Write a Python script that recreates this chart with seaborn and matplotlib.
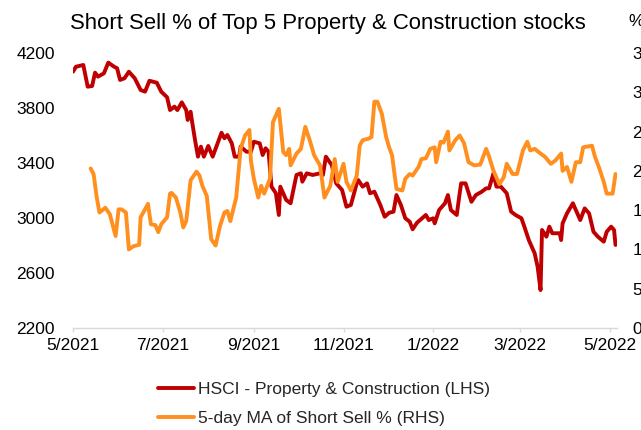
import pandas as pd
import matplotlib.pyplot as plt
import seaborn as sns

# ==================================================
# STYLE
# ==================================================

sns.set_theme(style="white")
plt.rcParams["font.family"] = ["Liberation Sans", "DejaVu Sans"]

RED = "#C00000"
ORANGE = "#FF8F1F"
GREY = "#D9D9D9"

# ==================================================
# DATA
# ==================================================

hsci_dates = [
    "2021-05-01", "2021-05-03", "2021-05-08", "2021-05-11", "2021-05-14", "2021-05-16",
    "2021-05-18", "2021-05-22", "2021-05-25", "2021-05-29", "2021-05-31", "2021-06-02",
    "2021-06-05", "2021-06-08", "2021-06-12", "2021-06-16", "2021-06-19", "2021-06-22",
    "2021-06-27", "2021-06-30", "2021-07-04", "2021-07-06", "2021-07-09", "2021-07-11",
    "2021-07-14", "2021-07-17", "2021-07-18", "2021-07-20", "2021-07-21", "2021-07-23",
    "2021-07-25", "2021-07-27", "2021-07-29", "2021-08-01", "2021-08-04", "2021-08-10",
    "2021-08-12", "2021-08-14", "2021-08-17", "2021-08-19", "2021-08-22", "2021-08-23",
    "2021-08-27", "2021-08-30", "2021-09-01", "2021-09-05", "2021-09-07", "2021-09-09",
    "2021-09-11", "2021-09-13", "2021-09-16", "2021-09-18", "2021-09-19", "2021-09-23",
    "2021-09-26", "2021-09-30", "2021-10-03", "2021-10-04", "2021-10-07", "2021-10-11",
    "2021-10-16", "2021-10-18", "2021-10-20", "2021-10-24", "2021-10-27", "2021-10-31",
    "2021-11-03", "2021-11-06", "2021-11-10", "2021-11-11", "2021-11-14", "2021-11-17",
    "2021-11-19", "2021-11-22", "2021-11-26", "2021-11-29", "2021-12-02", "2021-12-05",
    "2021-12-07", "2021-12-10", "2021-12-13", "2021-12-16", "2021-12-18", "2021-12-21",
    "2021-12-27", "2021-12-29", "2022-01-01", "2022-01-02", "2022-01-05", "2022-01-09",
    "2022-01-11", "2022-01-13", "2022-01-17", "2022-01-19", "2022-01-20", "2022-01-23",
    "2022-01-27", "2022-01-30", "2022-02-03", "2022-02-06", "2022-02-08", "2022-02-11",
    "2022-02-13", "2022-02-16", "2022-02-20", "2022-02-23", "2022-02-26", "2022-03-02",
    "2022-03-04", "2022-03-07", "2022-03-11", "2022-03-13", "2022-03-15", "2022-03-16",
    "2022-03-19", "2022-03-21", "2022-03-23", "2022-03-28", "2022-03-29", "2022-03-30",
    "2022-04-02", "2022-04-06", "2022-04-08", "2022-04-11", "2022-04-14", "2022-04-17",
    "2022-04-20", "2022-04-23", "2022-04-27", "2022-04-29", "2022-05-02", "2022-05-04",
    "2022-05-05",
]
hsci_values = [
    4064, 4100, 4113, 3955, 3960, 4057,
    4028, 4052, 4130, 4100, 4089, 4004,
    4016, 4064, 4016, 3931, 3919, 3998,
    3984, 3919, 3878, 3785, 3810, 3785,
    3841, 3785, 3713, 3773, 3700, 3567,
    3446, 3519, 3446, 3524, 3446, 3620,
    3580, 3604, 3543, 3446, 3446, 3519,
    3482, 3482, 3555, 3543, 3458, 3507,
    3482, 3228, 3180, 3022, 3228, 3131,
    3107, 3313, 3325, 3264, 3325, 3313,
    3325, 3313, 3446, 3385, 3252, 3204,
    3082, 3095, 3252, 3276, 3228, 3252,
    3180, 3191, 3095, 3009, 3038, 3046,
    3167, 3095, 2998, 2973, 2918, 2966,
    3022, 2985, 2998, 2961, 3058, 3107,
    3167, 3058, 3022, 3180, 3252, 3252,
    3118, 3167, 3191, 3216, 3216, 3325,
    3228, 3228, 3180, 3046, 3022, 2998,
    2937, 2840, 2743, 2646, 2476, 2913,
    2864, 2937, 2889, 2889, 2840, 2961,
    3034, 3107, 3058, 2985, 3070, 3034,
    2900, 2864, 2828, 2900, 2937, 2913,
    2804,
]

ma_dates = [
    "2021-05-13", "2021-05-15", "2021-05-17", "2021-05-19", "2021-05-23", "2021-05-26",
    "2021-05-30", "2021-06-01", "2021-06-03", "2021-06-06", "2021-06-08", "2021-06-11",
    "2021-06-15", "2021-06-16", "2021-06-19", "2021-06-21", "2021-06-23", "2021-06-26",
    "2021-06-28", "2021-06-30", "2021-07-04", "2021-07-06", "2021-07-07", "2021-07-10",
    "2021-07-13", "2021-07-15", "2021-07-17", "2021-07-20", "2021-07-24", "2021-07-26",
    "2021-07-28", "2021-07-31", "2021-08-03", "2021-08-06", "2021-08-09", "2021-08-12",
    "2021-08-14", "2021-08-16", "2021-08-20", "2021-08-23", "2021-08-26", "2021-08-29",
    "2021-08-30", "2021-09-01", "2021-09-04", "2021-09-06", "2021-09-08", "2021-09-12",
    "2021-09-14", "2021-09-18", "2021-09-21", "2021-09-23", "2021-09-25", "2021-09-26",
    "2021-09-30", "2021-10-03", "2021-10-06", "2021-10-09", "2021-10-12", "2021-10-16",
    "2021-10-19", "2021-10-23", "2021-10-26", "2021-10-28", "2021-11-01", "2021-11-03",
    "2021-11-06", "2021-11-10", "2021-11-12", "2021-11-14", "2021-11-18", "2021-11-20",
    "2021-11-22", "2021-11-24", "2021-11-27", "2021-11-30", "2021-12-02", "2021-12-04",
    "2021-12-07", "2021-12-11", "2021-12-13", "2021-12-16", "2021-12-18", "2021-12-22",
    "2021-12-24", "2021-12-27", "2021-12-30", "2022-01-02", "2022-01-03", "2022-01-06",
    "2022-01-08", "2022-01-11", "2022-01-12", "2022-01-16", "2022-01-19", "2022-01-22",
    "2022-01-25", "2022-01-29", "2022-02-02", "2022-02-06", "2022-02-08", "2022-02-11",
    "2022-02-15", "2022-02-18", "2022-02-20", "2022-02-24", "2022-02-27", "2022-03-03",
    "2022-03-06", "2022-03-08", "2022-03-11", "2022-03-15", "2022-03-18", "2022-03-22",
    "2022-03-25", "2022-03-29", "2022-03-30", "2022-04-02", "2022-04-05", "2022-04-08",
    "2022-04-11", "2022-04-13", "2022-04-19", "2022-04-21", "2022-04-24", "2022-04-27",
    "2022-04-29", "2022-05-03", "2022-05-05",
]
ma_values = [
    20.3, 19.6, 16.8, 14.7, 15.3, 14.5,
    11.7, 15.1, 15.1, 14.7, 10.0, 10.4,
    10.6, 14.1, 15.1, 15.8, 13.2, 13.1,
    12.2, 13.2, 14.1, 17.1, 17.2, 16.6,
    14.7, 12.8, 13.6, 18.8, 19.9, 19.4,
    18.1, 16.8, 11.3, 10.5, 13.0, 14.7,
    14.9, 13.6, 16.6, 22.8, 24.5, 25.2,
    21.3, 19.0, 16.6, 18.1, 17.1, 19.0,
    26.2, 27.9, 22.4, 22.0, 22.8, 20.7,
    22.2, 22.8, 25.6, 23.9, 22.0, 20.7,
    16.6, 18.1, 21.5, 18.6, 20.9, 18.6,
    17.5, 19.4, 23.2, 23.9, 24.1, 24.3,
    28.8, 28.8, 27.3, 24.3, 23.0, 22.0,
    17.7, 17.5, 19.0, 19.6, 19.4, 20.5,
    21.5, 21.6, 22.8, 23.0, 21.1, 23.7,
    23.6, 25.0, 22.6, 23.9, 24.5, 23.5,
    21.1, 20.7, 20.8, 22.8, 21.8, 20.0,
    18.3, 19.2, 20.9, 19.6, 19.6, 22.6,
    23.7, 22.6, 22.8, 22.2, 21.8, 20.9,
    21.3, 22.2, 20.0, 20.5, 18.6, 21.1,
    21.1, 23.0, 23.2, 21.8, 20.3, 18.6,
    17.1, 17.1, 19.6,
]

x_tick_dates = ["2021-05-01", "2021-07-01", "2021-09-01", "2021-11-01",
                "2022-01-01", "2022-03-01", "2022-05-01"]
x_tick_labels = ["5/2021", "7/2021", "9/2021", "11/2021", "1/2022", "3/2022", "5/2022"]
left_ticks = [2200, 2600, 3000, 3400, 3800, 4200]
right_ticks = [0, 5, 10, 15, 20, 25, 30, 35]

hsci = pd.DataFrame({"date": pd.to_datetime(hsci_dates), "value": hsci_values})
ma = pd.DataFrame({"date": pd.to_datetime(ma_dates), "value": ma_values})

# ==================================================
# PLOT
# ==================================================

fig = plt.figure(figsize=(6.41, 4.30), dpi=100)
ax = fig.add_axes([73 / 641, 1 - 328 / 430, 544 / 641, 275 / 430])
ax2 = ax.twinx()

sns.lineplot(data=hsci, x="date", y="value", ax=ax, color=RED, linewidth=2.8,
             estimator=None, legend=False, label="HSCI - Property & Construction (LHS)")
sns.lineplot(data=ma, x="date", y="value", ax=ax2, color=ORANGE, linewidth=2.8,
             estimator=None, legend=False, label="5-day MA of Short Sell % (RHS)")

ax.set_xlim(pd.Timestamp("2021-05-01"), pd.Timestamp("2022-05-06"))
ax.set_ylim(2200, 4200)
ax2.set_ylim(0, 35)

ax.set_xticks(pd.to_datetime(x_tick_dates))
ax.set_xticklabels(x_tick_labels)
ax.set_yticks(left_ticks)
ax.set_yticklabels([str(v) for v in left_ticks])
ax2.set_yticks(right_ticks)
ax2.set_yticklabels([str(v) for v in right_ticks])

for a in (ax, ax2):
    a.set_xlabel("")
    a.set_ylabel("")
    for side in ("top", "left", "right", "bottom"):
        a.spines[side].set_visible(False)
    a.grid(False)

ax.spines["bottom"].set_visible(True)
ax.spines["bottom"].set_color(GREY)
ax.spines["bottom"].set_linewidth(1.0)

ax.tick_params(axis="x", which="major", bottom=True, length=3, width=1,
               color=GREY, labelsize=12.5, pad=4, labelcolor="#000000")
ax.tick_params(axis="y", left=False, length=0, labelsize=12.5, pad=13,
               labelcolor="#000000")
ax2.tick_params(axis="y", right=False, length=0, labelsize=12.5, pad=11,
                labelcolor="#000000")

fig.text(328 / 641, 1 - 23 / 430, "Short Sell % of Top 5 Property & Construction stocks",
         ha="center", va="center", fontsize=15.9, color="#000000")
fig.text(628 / 641, 1 - 21 / 430, "%", ha="left", va="center",
         fontsize=12.5, color="#000000")

h1, l1 = ax.get_legend_handles_labels()
h2, l2 = ax2.get_legend_handles_labels()
fig.legend(h1 + h2, l1 + l2, loc="center left",
           bbox_to_anchor=(158 / 641, 1 - 404 / 430),
           frameon=False, fontsize=12.5, handlelength=2.1, handletextpad=0.2,
           labelspacing=0.8, borderpad=0, borderaxespad=0)

fig.savefig("out.png", dpi=100)
